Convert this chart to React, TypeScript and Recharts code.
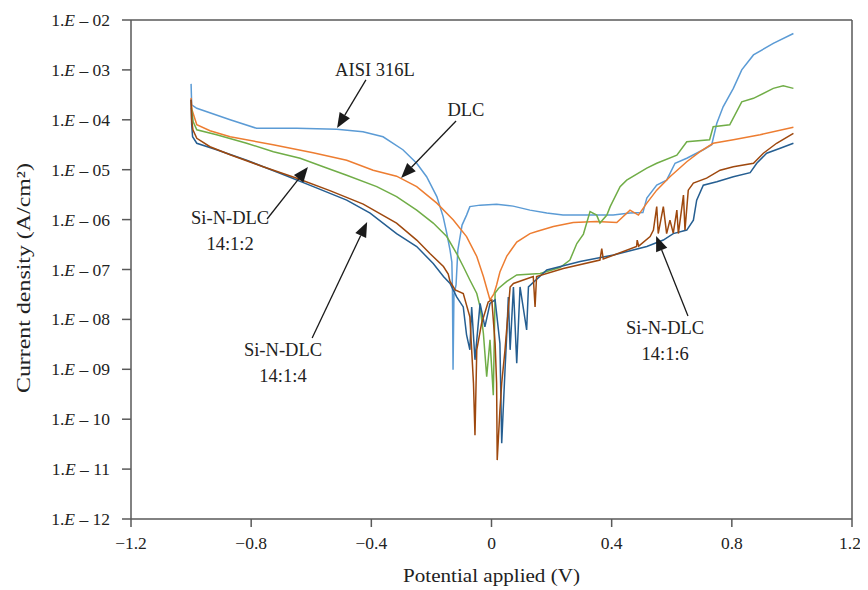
import {
  LineChart,
  Line,
  XAxis,
  YAxis,
  ReferenceLine,
  ReferenceDot,
  Label,
} from "recharts";

// [potential (V), log10 current density (A/cm2)]
const aisi316L: [number, number][] = [
  [-1.0, -3.28], [-0.998, -3.7], [-0.981, -3.77], [-0.87, -4.0], [-0.782, -4.17],
  [-0.648, -4.17], [-0.515, -4.19], [-0.428, -4.24], [-0.361, -4.34], [-0.295, -4.6],
  [-0.249, -4.87], [-0.216, -5.14], [-0.182, -5.54], [-0.161, -5.94], [-0.149, -6.27],
  [-0.138, -6.61], [-0.132, -6.85], [-0.13, -7.41], [-0.128, -9.01], [-0.125, -7.51],
  [-0.118, -7.31], [-0.112, -6.61], [-0.098, -6.11], [-0.083, -5.91], [-0.072, -5.74],
  [-0.038, -5.71], [0.017, -5.69], [0.072, -5.73], [0.128, -5.81], [0.184, -5.87],
  [0.238, -5.91], [0.295, -5.91], [0.405, -5.91], [0.461, -5.87], [0.504, -5.86],
  [0.517, -5.57], [0.55, -5.31], [0.583, -5.21], [0.611, -4.87], [0.65, -4.77],
  [0.705, -4.6], [0.733, -4.5], [0.75, -4.07], [0.771, -3.74], [0.805, -3.37],
  [0.833, -3.0], [0.872, -2.7], [0.938, -2.47], [1.005, -2.27],
];

const dlc: [number, number][] = [
  [-1.0, -3.56], [-0.997, -3.8], [-0.981, -4.1], [-0.937, -4.22], [-0.87, -4.34],
  [-0.727, -4.5], [-0.594, -4.66], [-0.482, -4.81], [-0.394, -5.01], [-0.316, -5.13],
  [-0.249, -5.34], [-0.182, -5.67], [-0.127, -6.01], [-0.083, -6.34], [-0.049, -6.74],
  [-0.027, -7.14], [-0.011, -7.48], [-0.005, -7.61], [0.008, -7.49], [0.017, -7.31],
  [0.028, -7.05], [0.051, -6.73], [0.084, -6.45], [0.128, -6.28], [0.15, -6.24],
  [0.206, -6.14], [0.272, -6.06], [0.35, -6.04], [0.417, -6.06], [0.461, -5.81],
  [0.489, -5.91], [0.517, -5.67], [0.55, -5.41], [0.594, -5.14], [0.65, -4.84],
  [0.694, -4.64], [0.738, -4.47], [0.805, -4.4], [0.894, -4.3], [1.005, -4.15],
];

const siNDlc2: [number, number][] = [
  [-0.999, -3.76], [-0.993, -4.04], [-0.981, -4.2], [-0.915, -4.3], [-0.815, -4.47],
  [-0.726, -4.64], [-0.637, -4.77], [-0.56, -4.94], [-0.482, -5.11], [-0.382, -5.34],
  [-0.316, -5.54], [-0.249, -5.81], [-0.194, -6.07], [-0.149, -6.34], [-0.116, -6.68],
  [-0.094, -6.94], [-0.072, -7.21], [-0.049, -7.48], [-0.038, -7.75], [-0.027, -8.28],
  [-0.016, -9.15], [-0.005, -8.41], [0.006, -9.52], [0.012, -7.47], [0.023, -7.38],
  [0.051, -7.24], [0.084, -7.11], [0.162, -7.08], [0.228, -6.96], [0.261, -6.81],
  [0.284, -6.48], [0.306, -6.29], [0.328, -5.84], [0.35, -5.91], [0.361, -6.07],
  [0.384, -5.91], [0.395, -5.74], [0.428, -5.34], [0.45, -5.21], [0.517, -4.97],
  [0.55, -4.87], [0.617, -4.71], [0.65, -4.44], [0.726, -4.4], [0.738, -4.14],
  [0.793, -4.1], [0.833, -3.64], [0.872, -3.57], [0.938, -3.37], [0.971, -3.32],
  [1.005, -3.37],
];

const siNDlc4: [number, number][] = [
  [-1.0, -3.6], [-0.998, -4.0], [-0.994, -4.2], [-0.981, -4.37], [-0.937, -4.54],
  [-0.87, -4.7], [-0.76, -4.94], [-0.648, -5.17], [-0.538, -5.42], [-0.427, -5.69],
  [-0.316, -6.07], [-0.249, -6.41], [-0.205, -6.68], [-0.16, -6.94], [-0.144, -7.09],
  [-0.138, -7.24], [-0.121, -7.41], [-0.094, -7.48], [-0.072, -7.95], [-0.06, -9.28],
  [-0.055, -10.32], [-0.049, -8.61], [-0.033, -8.08], [-0.011, -7.65], [0.001, -7.61],
  [0.012, -8.48], [0.017, -9.28], [0.019, -10.82], [0.028, -9.82], [0.034, -9.28],
  [0.045, -8.61], [0.062, -7.35], [0.073, -7.28], [0.139, -7.14], [0.145, -7.75],
  [0.15, -7.14], [0.239, -6.98], [0.361, -6.81], [0.367, -6.58], [0.372, -6.79],
  [0.483, -6.54], [0.485, -6.41], [0.49, -6.53], [0.528, -6.34], [0.539, -6.21],
  [0.55, -5.74], [0.555, -6.28], [0.572, -5.74], [0.583, -6.28], [0.594, -6.01],
  [0.605, -6.27], [0.617, -5.81], [0.622, -6.28], [0.639, -5.51], [0.644, -6.21],
  [0.655, -5.41], [0.672, -5.27], [0.716, -5.17], [0.761, -5.01], [0.805, -4.94],
  [0.872, -4.87], [0.905, -4.67], [0.949, -4.47], [1.005, -4.27],
];

const siNDlc6: [number, number][] = [
  [-1.0, -3.6], [-0.998, -4.1], [-0.995, -4.34], [-0.981, -4.47], [-0.915, -4.6],
  [-0.815, -4.81], [-0.704, -5.07], [-0.593, -5.34], [-0.482, -5.61], [-0.404, -5.87],
  [-0.316, -6.28], [-0.249, -6.54], [-0.194, -6.88], [-0.16, -7.14], [-0.138, -7.28],
  [-0.116, -7.55], [-0.094, -7.75], [-0.083, -8.31], [-0.072, -8.61], [-0.066, -7.75],
  [-0.055, -8.81], [-0.038, -7.68], [-0.022, -8.15], [-0.005, -7.68], [0.012, -7.61],
  [0.028, -8.48], [0.034, -10.48], [0.045, -9.01], [0.051, -8.28], [0.056, -7.55],
  [0.062, -8.61], [0.073, -7.35], [0.084, -8.88], [0.095, -7.35], [0.117, -8.21],
  [0.123, -7.35], [0.184, -7.01], [0.295, -6.84], [0.406, -6.71], [0.517, -6.54],
  [0.572, -6.41], [0.605, -6.28], [0.65, -6.21], [0.672, -6.01], [0.683, -5.61],
  [0.705, -5.31], [0.75, -5.24], [0.805, -5.14], [0.861, -5.06], [0.883, -4.87],
  [0.916, -4.67], [0.961, -4.57], [1.005, -4.47],
];

const xTicks = [-1.2, -0.8, -0.4, 0, 0.4, 0.8, 1.2];
const yTicks = [-12, -11, -10, -9, -8, -7, -6, -5, -4, -3, -2];

const series = [
  { name: "AISI 316L", points: aisi316L, color: "#5B9BD5" },
  { name: "DLC", points: dlc, color: "#ED7D31" },
  { name: "Si-N-DLC 14:1:2", points: siNDlc2, color: "#70AD47" },
  { name: "Si-N-DLC 14:1:6", points: siNDlc6, color: "#255E91" },
  { name: "Si-N-DLC 14:1:4", points: siNDlc4, color: "#9E480E" },
];

// callouts: text position, arrow tail and arrow tip, all in data units
const callouts = [
  { lines: ["AISI 316L"], at: [-0.388, -3.0], tail: [-0.418, -3.2], tip: [-0.514, -4.164] },
  { lines: ["DLC"], at: [-0.085, -3.8], tail: [-0.118, -4.024], tip: [-0.301, -5.166] },
  { lines: ["Si-N-DLC", "14:1:2"], at: [-0.87, -5.97], tail: [-0.747, -5.988], tip: [-0.611, -4.946] },
  { lines: ["Si-N-DLC", "14:1:4"], at: [-0.694, -8.61], tail: [-0.597, -8.373], tip: [-0.414, -6.048] },
  { lines: ["Si-N-DLC", "14:1:6"], at: [0.578, -8.17], tail: [0.654, -7.932], tip: [0.548, -6.329] },
];

const FONT = "'Liberation Serif', 'Times New Roman', serif";
const AXIS = "#595959";

const toRows = (pts: [number, number][]) => pts.map(([v, j]) => ({ v, j }));

const fmtX = (v: number) => (v < 0 ? "\u2212" + Math.abs(v) : String(v));

const YTick = (props: any) => {
  const { x, y, payload } = props;
  const exp = String(Math.abs(payload.value)).padStart(2, "0");
  return (
    <text x={x} y={y} textAnchor="end" dominantBaseline="central" fontFamily={FONT} fontSize={17.5} fill="#222">
      <tspan>1.</tspan>
      <tspan fontStyle="italic">E</tspan>
      <tspan>{" \u2013 " + exp}</tspan>
    </text>
  );
};

const XTick = (props: any) => {
  const { x, y, payload } = props;
  return (
    <text x={x} y={y} dy="0.71em" textAnchor="middle" fontFamily={FONT} fontSize={17.5} fill="#222">
      {fmtX(payload.value)}
    </text>
  );
};

const Arrow = (props: any) => {
  const { x1, y1, x2, y2 } = props;
  if ([x1, y1, x2, y2].some((n) => typeof n !== "number" || isNaN(n))) return <g />;
  const ang = Math.atan2(y2 - y1, x2 - x1);
  const len = 15;
  const half = 6;
  const bx = x2 - len * Math.cos(ang);
  const by = y2 - len * Math.sin(ang);
  const px = -Math.sin(ang) * half;
  const py = Math.cos(ang) * half;
  return (
    <g>
      <line x1={x1} y1={y1} x2={bx} y2={by} stroke="#1a1a1a" strokeWidth={1.3} />
      <polygon points={`${x2},${y2} ${bx + px},${by + py} ${bx - px},${by - py}`} fill="#1a1a1a" />
    </g>
  );
};

const calloutText = (lines: string[]) => (props: any) => {
  const { cx, cy } = props;
  return (
    <text x={cx} y={cy} textAnchor="middle" dominantBaseline="central" fontFamily={FONT} fontSize={18.5} fill="#222">
      {lines.map((t, i) => (
        <tspan key={i} x={cx} dy={i === 0 ? 0 : 26}>
          {t}
        </tspan>
      ))}
    </text>
  );
};

const App = () => {
  return (
    <LineChart width={852} height={580} margin={{ top: 12, right: 8, left: 0, bottom: 6 }}>
      <XAxis
        type="number"
        dataKey="v"
        domain={[-1.2, 1.2]}
        ticks={xTicks}
        allowDataOverflow
        stroke={AXIS}
        strokeWidth={1.5}
        tickSize={8}
        tickMargin={10}
        tick={<XTick />}
        height={63}
      >
        <Label
          content={(p: any) => {
            const vb = p.viewBox;
            return (
              <text x={vb.x + vb.width / 2} y={vb.y + 63} textAnchor="middle" fontFamily={FONT} fontSize={19} fill="#222" textLength={177} lengthAdjust="spacingAndGlyphs">
                Potential applied (V)
              </text>
            );
          }}
        />
      </XAxis>
      <YAxis
        type="number"
        dataKey="j"
        domain={[-12, -2]}
        ticks={yTicks}
        allowDataOverflow
        stroke={AXIS}
        strokeWidth={1.5}
        tickSize={9}
        tickMargin={12}
        tick={<YTick />}
        width={123}
      >
        <Label
          content={(p: any) => {
            const vb = p.viewBox;
            const cx = vb.x + 15;
            const cy = 270;
            return (
              <text x={cx} y={cy} textAnchor="middle" dominantBaseline="central" fontFamily={FONT} fontSize={19} fill="#222" transform={`rotate(-90 ${cx} ${cy})`} textLength={230} lengthAdjust="spacingAndGlyphs">
                Current density (A/cm{"\u00B2"})
              </text>
            );
          }}
        />
      </YAxis>
      <ReferenceLine y={-2} stroke={AXIS} strokeWidth={1.5} />
      <ReferenceLine x={1.2} stroke={AXIS} strokeWidth={1.5} />
      {series.map((s) => (
        <Line
          key={s.name}
          name={s.name}
          data={toRows(s.points)}
          dataKey="j"
          type="linear"
          stroke={s.color}
          strokeWidth={1.5}
          dot={false}
          isAnimationActive={false}
        />
      ))}
      {callouts.map((c, i) => (
        <ReferenceLine
          key={"a" + i}
          segment={[
            { x: c.tail[0], y: c.tail[1] },
            { x: c.tip[0], y: c.tip[1] },
          ]}
          shape={<Arrow />}
        />
      ))}
      {callouts.map((c, i) => (
        <ReferenceDot key={"t" + i} x={c.at[0]} y={c.at[1]} r={0} shape={calloutText(c.lines)} />
      ))}
    </LineChart>
  );
};

export default App;
